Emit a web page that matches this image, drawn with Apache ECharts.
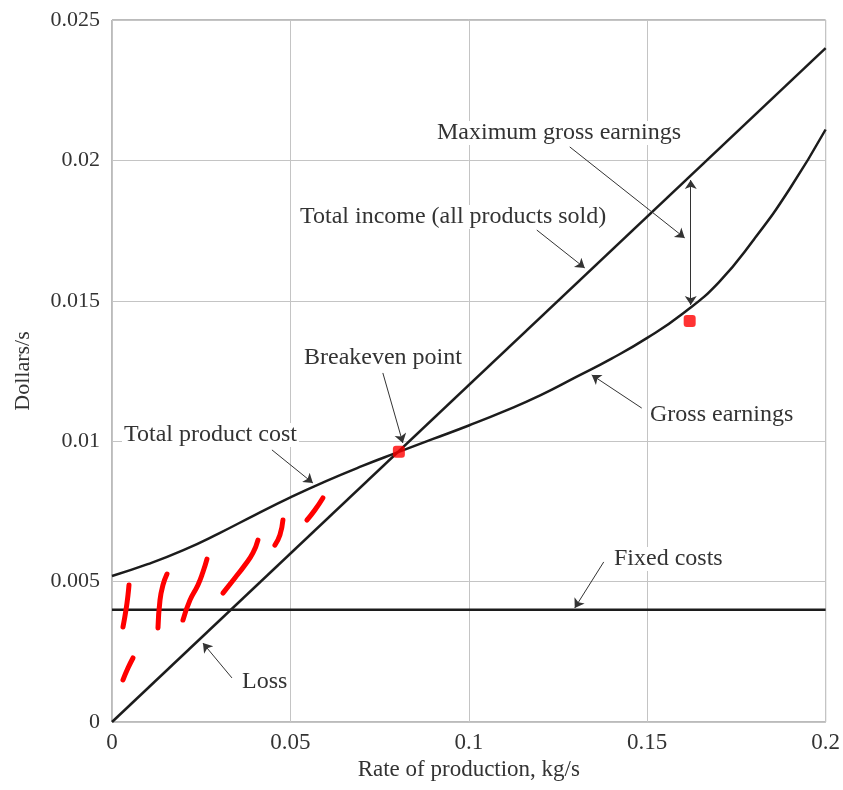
<!DOCTYPE html>
<html>
<head>
<meta charset="utf-8">
<script src="https://cdn.jsdelivr.net/npm/echarts@6/dist/echarts.min.js"></script>
<style>html,body{margin:0;padding:0;background:#fff;}#c{width:843px;height:790px;}</style>
</head>
<body>
<div id="c"></div>
<script>
// ---- data ----
const xTicks = [0, 0.05, 0.1, 0.15, 0.2];
const yTicks = [0, 0.005, 0.01, 0.015, 0.02, 0.025];

const incomeX = [0, 0.2];
const incomeY = [0, 0.024];

const costX = [0, 0.01, 0.02, 0.03, 0.04, 0.05, 0.06, 0.07, 0.08, 0.09, 0.1, 0.11, 0.12, 0.13, 0.14, 0.15, 0.16, 0.17, 0.18, 0.19, 0.2];
const costY = [0.0052, 0.00562, 0.00612, 0.00672, 0.00737, 0.008, 0.00858, 0.00911, 0.0096, 0.01008, 0.01056, 0.01107, 0.01163, 0.01228, 0.01294, 0.01368, 0.01455, 0.01565, 0.0172, 0.019, 0.0211];

const fixedX = [0, 0.2];
const fixedY = [0.004, 0.004];

const markerX = [0.0804, 0.1619];
const markerY = [0.00962, 0.01428];

// hand-drawn red strokes in the loss region
const redStrokes = [
  [[0.00308,0.00338],[0.00392,0.00399],[0.00448,0.00452],[0.00476,0.00488]],
  [[0.00308,0.00150],[0.00448,0.00192],[0.00588,0.00228]],
  [[0.01289,0.00335],[0.01345,0.00434],[0.01429,0.00488],[0.01541,0.00527]],
  [[0.01989,0.00363],[0.02185,0.00434],[0.02409,0.00488],[0.02549,0.00534],[0.02661,0.00580]],
  [[0.03109,0.00459],[0.03445,0.00513],[0.03726,0.00559],[0.03950,0.00602],[0.04090,0.00648]],
  [[0.04566,0.00630],[0.04706,0.00666],[0.04790,0.00719]],
  [[0.05462,0.00719],[0.05686,0.00755],[0.05910,0.00798]]
];

// annotation arrows (from label to curve)
const arrows = [
  [[0.12829,0.02048],[0.16050,0.01724]],
  [[0.11905,0.01752],[0.13249,0.01617]],
  [[0.07591,0.01243],[0.08151,0.00994]],
  [[0.04482,0.00969],[0.05630,0.00851]],
  [[0.14846,0.01118],[0.13445,0.01236]],
  [[0.13781,0.00570],[0.12969,0.00406]],
  [[0.03361,0.00157],[0.02549,0.00281]]
];
const gapArrow = [[0.1622,0.0193],[0.1622,0.01485]];

const labels = [
  {t:'Maximum gross earnings', x:435, y:133},
  {t:'Total income (all products sold)', x:298, y:217},
  {t:'Breakeven point', x:302, y:358},
  {t:'Total product cost', x:122, y:435},
  {t:'Gross earnings', x:648, y:415},
  {t:'Fixed costs', x:612, y:559},
  {t:'Loss', x:240, y:682}
];

const zip = (a, b) => a.map((v, i) => [v, b[i]]);
const FONT = '"Liberation Serif", "DejaVu Serif", serif';
const LINE = '#1c1c1c';

const series = [
  {type:'line', data: zip(incomeX, incomeY), showSymbol:false, lineStyle:{color:LINE, width:2.5}, z:5},
  {type:'line', data: zip(costX, costY), smooth:true, showSymbol:false, lineStyle:{color:LINE, width:2.5}, z:5},
  {type:'line', data: zip(fixedX, fixedY), showSymbol:false, lineStyle:{color:LINE, width:2.5}, z:5},
  {type:'lines', coordinateSystem:'cartesian2d', symbol:['none','arrow'], symbolSize:9,
   lineStyle:{color:'#333', width:1, opacity:1}, data: arrows.map(c => ({coords:c})), z:6},
  {type:'lines', coordinateSystem:'cartesian2d', symbol:['arrow','arrow'], symbolSize:9,
   lineStyle:{color:'#333', width:1, opacity:1}, data: [{coords: gapArrow}], z:6}
];
redStrokes.forEach(s => series.push({
  type:'line', data:s, smooth:true, showSymbol:false,
  lineStyle:{color:'#ff0000', width:5, cap:'round', join:'round'}, z:8
}));
series.push({type:'scatter', data: zip(markerX, markerY), symbol:'roundRect', symbolSize:12,
  itemStyle:{color:'#ff0000'}, z:9});

const chart = echarts.init(document.getElementById('c'), null, {renderer:'canvas'});
chart.setOption({
  animation:false,
  backgroundColor:'#fff',
  grid:{left:112, right:16, top:20, bottom:68, show:true, borderColor:'#777', borderWidth:1, backgroundColor:'transparent'},
  xAxis:{type:'value', min:xTicks[0], max:xTicks[xTicks.length-1], interval:0.05,
    name:'Rate of production, kg/s', nameLocation:'middle', nameGap:36,
    nameTextStyle:{fontFamily:FONT, fontSize:23, color:'#333'},
    axisLine:{show:false}, axisTick:{show:false},
    axisLabel:{fontFamily:FONT, fontSize:23, color:'#333', margin:9,
      formatter: v => String(+v.toFixed(3))},
    splitLine:{show:true, lineStyle:{color:'#c4c4c4', width:1}}},
  yAxis:{type:'value', min:yTicks[0], max:yTicks[yTicks.length-1], interval:0.005,
    name:'Dollars/s', nameLocation:'middle', nameGap:78, nameRotate:90,
    nameTextStyle:{fontFamily:FONT, fontSize:22, color:'#333'},
    axisLine:{show:false}, axisTick:{show:false},
    axisLabel:{fontFamily:FONT, fontSize:22, color:'#333', margin:12,
      formatter: v => String(+v.toFixed(4))},
    splitLine:{show:true, lineStyle:{color:'#c4c4c4', width:1}}},
  graphic: labels.map(l => ({
    type:'text', x:l.x, y:l.y, z:20,
    style:{text:l.t, font:'24px ' + FONT, fill:'#333',
      textVerticalAlign:'middle', verticalAlign:'middle', align:'left',
      backgroundColor:'#fff', padding:[0,2]}
  })),
  series: series
});
</script>
</body>
</html>
